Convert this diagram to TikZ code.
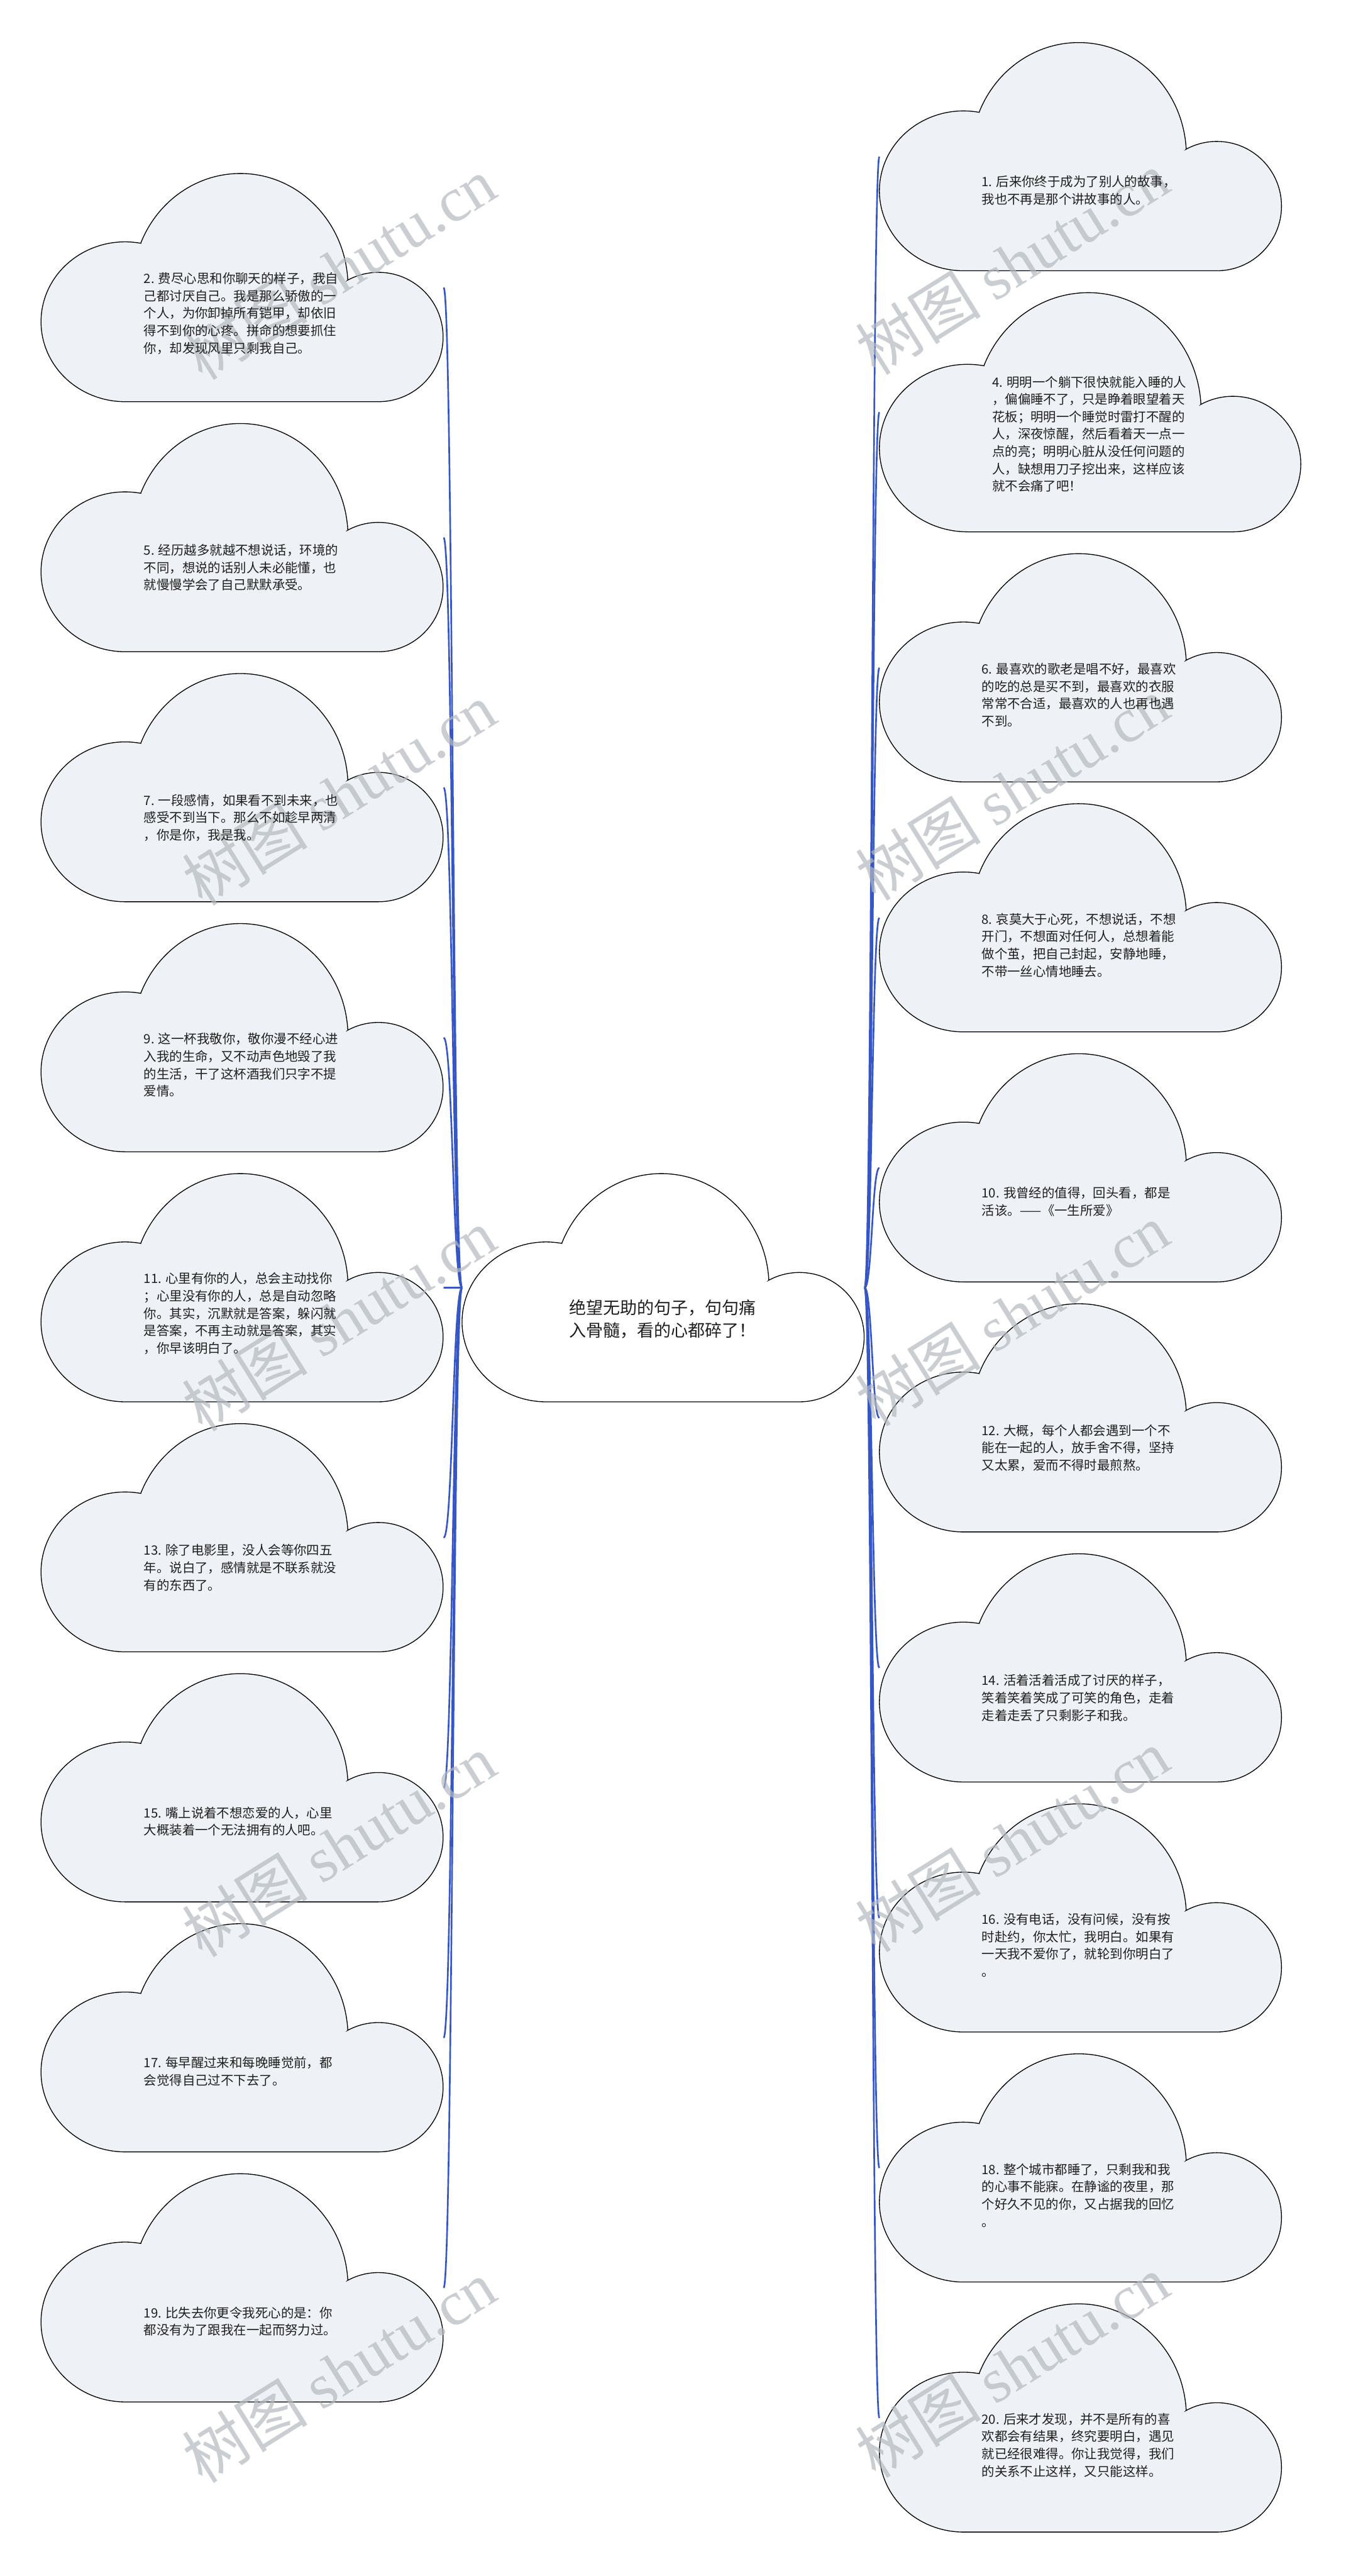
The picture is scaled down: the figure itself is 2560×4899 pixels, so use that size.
\documentclass[tikz,border=0pt]{standalone}
\usepackage{fontspec}
\setmainfont{Noto Sans CJK SC}
\newfontfamily\markfont{Liberation Serif}
\usetikzlibrary{positioning}
\definecolor{cloudfill}{HTML}{EEF1F5}
\definecolor{linkblue}{HTML}{3556C4}
\definecolor{markgray}{HTML}{B4BAC0}
\definecolor{inkdark}{HTML}{1F1F1F}

\tikzset{
  pics/cloudshape/.style={code={
    \path[pic actions] (160,0) -- (642,0)
      arc[start angle=-90, end angle=118.4, radius=123]
      -- (583.7,231.4)
      arc[start angle=3.3, end angle=157.2, x radius=205, y radius=215]
      -- (190,301.3)
      arc[start angle=79.2, end angle=270, x radius=160, y radius=152]
      -- cycle;
  }}
}

\begin{document}
\begin{tikzpicture}[x=0.1mm, y=0.1mm,
  cloudbox/.style={minimum width=76.6mm, minimum height=43.4mm, inner sep=0pt, outer sep=0pt},
  bigbox/.style={cloudbox, minimum width=80.3mm, minimum height=45.5mm},
  cloudpaint/.style={draw=black, fill=cloudfill, line width=0.45pt},
  note/.style={anchor=west, align=left, inner sep=0pt, text=inkdark,
               font=\fontsize{6.95pt}{9.4pt}\selectfont},
  rootnote/.style={note, font=\fontsize{9.2pt}{12.2pt}\selectfont},
  branch/.style={draw=linkblue, line width=0.9pt},
  wmark/.style={text=markgray, opacity=0.7, rotate=32, inner sep=0pt,
                font=\fontsize{34pt}{34pt}\selectfont},
  node distance=4.15mm
]
  \path[use as bounding box, fill=white] (0,0) rectangle (2560,4899);

  % centre cloud
  \node[cloudbox, anchor=south west] (root) at (879,2233) {};
  \pic[cloudpaint, fill=white] at (root.south west) {cloudshape};

  % left column
  \node[cloudbox, anchor=south west] (c2) at (78,4135) {};
  \node[cloudbox, below=of c2] (c5) {};
  \node[cloudbox, below=of c5] (c7) {};
  \node[cloudbox, below=of c7] (c9) {};
  \node[cloudbox, below=of c9] (c11) {};
  \node[cloudbox, below=of c11] (c13) {};
  \node[cloudbox, below=of c13] (c15) {};
  \node[cloudbox, below=of c15] (c17) {};
  \node[cloudbox, below=of c17] (c19) {};

  % right column
  \node[cloudbox, anchor=south west] (c1) at (1673,4384) {};
  \node[bigbox, below=of c1.south west, anchor=north west] (c4) {};
  \node[cloudbox, below=of c4.south west, anchor=north west] (c6) {};
  \node[cloudbox, below=of c6] (c8) {};
  \node[cloudbox, below=of c8] (c10) {};
  \node[cloudbox, below=of c10] (c12) {};
  \node[cloudbox, below=of c12] (c14) {};
  \node[cloudbox, below=of c14] (c16) {};
  \node[cloudbox, below=of c16] (c18) {};
  \node[cloudbox, below=of c18] (c20) {};

  \pic[cloudpaint] at (c2.south west) {cloudshape};
  \pic[cloudpaint] at (c5.south west) {cloudshape};
  \pic[cloudpaint] at (c7.south west) {cloudshape};
  \pic[cloudpaint] at (c9.south west) {cloudshape};
  \pic[cloudpaint] at (c11.south west) {cloudshape};
  \pic[cloudpaint] at (c13.south west) {cloudshape};
  \pic[cloudpaint] at (c15.south west) {cloudshape};
  \pic[cloudpaint] at (c17.south west) {cloudshape};
  \pic[cloudpaint] at (c19.south west) {cloudshape};
  \pic[cloudpaint] at (c1.south west) {cloudshape};
  \pic[cloudpaint, scale=1.048] at (c4.south west) {cloudshape};
  \pic[cloudpaint] at (c6.south west) {cloudshape};
  \pic[cloudpaint] at (c8.south west) {cloudshape};
  \pic[cloudpaint] at (c10.south west) {cloudshape};
  \pic[cloudpaint] at (c12.south west) {cloudshape};
  \pic[cloudpaint] at (c14.south west) {cloudshape};
  \pic[cloudpaint] at (c16.south west) {cloudshape};
  \pic[cloudpaint] at (c18.south west) {cloudshape};
  \pic[cloudpaint] at (c20.south west) {cloudshape};

  % branches
  \draw[branch] (root.west) .. controls +(-17.5,0) and +(17.5,0) .. (c2.east);
  \draw[branch] (root.west) .. controls +(-17.5,0) and +(17.5,0) .. (c5.east);
  \draw[branch] (root.west) .. controls +(-17.5,0) and +(17.5,0) .. (c7.east);
  \draw[branch] (root.west) .. controls +(-17.5,0) and +(17.5,0) .. (c9.east);
  \draw[branch] (root.west) .. controls +(-17.5,0) and +(17.5,0) .. (c11.east);
  \draw[branch] (root.west) .. controls +(-17.5,0) and +(17.5,0) .. (c13.east);
  \draw[branch] (root.west) .. controls +(-17.5,0) and +(17.5,0) .. (c15.east);
  \draw[branch] (root.west) .. controls +(-17.5,0) and +(17.5,0) .. (c17.east);
  \draw[branch] (root.west) .. controls +(-17.5,0) and +(17.5,0) .. (c19.east);
  \draw[branch] (root.east) .. controls +(14,0) and +(-14,0) .. (c1.west);
  \draw[branch] (root.east) .. controls +(14,0) and +(-14,0) .. (c4.west);
  \draw[branch] (root.east) .. controls +(14,0) and +(-14,0) .. (c6.west);
  \draw[branch] (root.east) .. controls +(14,0) and +(-14,0) .. (c8.west);
  \draw[branch] (root.east) .. controls +(14,0) and +(-14,0) .. (c10.west);
  \draw[branch] (root.east) .. controls +(14,0) and +(-14,0) .. (c12.west);
  \draw[branch] (root.east) .. controls +(14,0) and +(-14,0) .. (c14.west);
  \draw[branch] (root.east) .. controls +(14,0) and +(-14,0) .. (c16.west);
  \draw[branch] (root.east) .. controls +(14,0) and +(-14,0) .. (c18.west);
  \draw[branch] (root.east) .. controls +(14,0) and +(-14,0) .. (c20.west);

  % watermarks
  \node[wmark] (w1) at (645,4389) {树图 {\markfont shutu.cn}};
  \node[wmark] (w2) at (645,3389) {树图 {\markfont shutu.cn}};
  \node[wmark] (w3) at (645,2389) {树图 {\markfont shutu.cn}};
  \node[wmark] (w4) at (645,1389) {树图 {\markfont shutu.cn}};
  \node[wmark] (w5) at (645,389) {树图 {\markfont shutu.cn}};
  \node[wmark] (w6) at (1926,4399) {树图 {\markfont shutu.cn}};
  \node[wmark] (w7) at (1926,3399) {树图 {\markfont shutu.cn}};
  \node[wmark] (w8) at (1926,2399) {树图 {\markfont shutu.cn}};
  \node[wmark] (w9) at (1926,1399) {树图 {\markfont shutu.cn}};
  \node[wmark] (w10) at (1926,399) {树图 {\markfont shutu.cn}};

  % texts
  \node[rootnote] (troot) at ([shift={(20.3mm,15.75mm)}]root.south west) {绝望无助的句子，句句痛\\入骨髓，看的心都碎了！};

  \node[note] (t2) at ([shift={(19.5mm,16.8mm)}]c2.south west) {2. 费尽心思和你聊天的样子，我自\\己都讨厌自己。我是那么骄傲的一\\个人，为你卸掉所有铠甲，却依旧\\得不到你的心疼。拼命的想要抓住\\你，却发现风里只剩我自己。};
  \node[note] (t5) at ([shift={(19.5mm,16.0mm)}]c5.south west) {5. 经历越多就越不想说话，环境的\\不同，想说的话别人未必能懂，也\\就慢慢学会了自己默默承受。};
  \node[note] (t7) at ([shift={(19.5mm,16.0mm)}]c7.south west) {7. 一段感情，如果看不到未来，也\\感受不到当下。那么不如趁早两清\\，你是你，我是我。};
  \node[note] (t9) at ([shift={(19.5mm,16.5mm)}]c9.south west) {9. 这一杯我敬你，敬你漫不经心进\\入我的生命，又不动声色地毁了我\\的生活，干了这杯酒我们只字不提\\爱情。};
  \node[note] (t11) at ([shift={(19.5mm,16.8mm)}]c11.south west) {11. 心里有你的人，总会主动找你\\；心里没有你的人，总是自动忽略\\你。其实，沉默就是答案，躲闪就\\是答案，不再主动就是答案，其实\\，你早该明白了。};
  \node[note] (t13) at ([shift={(19.5mm,16.0mm)}]c13.south west) {13. 除了电影里，没人会等你四五\\年。说白了，感情就是不联系就没\\有的东西了。};
  \node[note] (t15) at ([shift={(19.5mm,15.3mm)}]c15.south west) {15. 嘴上说着不想恋爱的人，心里\\大概装着一个无法拥有的人吧。};
  \node[note] (t17) at ([shift={(19.5mm,15.3mm)}]c17.south west) {17. 每早醒过来和每晚睡觉前，都\\会觉得自己过不下去了。};
  \node[note] (t19) at ([shift={(19.5mm,15.3mm)}]c19.south west) {19. 比失去你更令我死心的是：你\\都没有为了跟我在一起而努力过。};

  \node[note] (t1) at ([shift={(19.4mm,15.3mm)}]c1.south west) {1. 后来你终于成为了别人的故事，\\我也不再是那个讲故事的人。};
  \node[note] (t4) at ([shift={(21.4mm,18.6mm)}]c4.south west) {4. 明明一个躺下很快就能入睡的人\\，偏偏睡不了，只是睁着眼望着天\\花板；明明一个睡觉时雷打不醒的\\人，深夜惊醒，然后看着天一点一\\点的亮；明明心脏从没任何问题的\\人，缺想用刀子挖出来，这样应该\\就不会痛了吧！};
  \node[note] (t6) at ([shift={(19.4mm,16.5mm)}]c6.south west) {6. 最喜欢的歌老是唱不好，最喜欢\\的吃的总是买不到，最喜欢的衣服\\常常不合适，最喜欢的人也再也遇\\不到。};
  \node[note] (t8) at ([shift={(19.4mm,16.5mm)}]c8.south west) {8. 哀莫大于心死，不想说话，不想\\开门，不想面对任何人，总想着能\\做个茧，把自己封起，安静地睡，\\不带一丝心情地睡去。};
  \node[note] (t10) at ([shift={(19.4mm,15.3mm)}]c10.south west) {10. 我曾经的值得，回头看，都是\\活该。——《一生所爱》};
  \node[note] (t12) at ([shift={(19.4mm,16.0mm)}]c12.south west) {12. 大概，每个人都会遇到一个不\\能在一起的人，放手舍不得，坚持\\又太累，爱而不得时最煎熬。};
  \node[note] (t14) at ([shift={(19.4mm,16.0mm)}]c14.south west) {14. 活着活着活成了讨厌的样子，\\笑着笑着笑成了可笑的角色，走着\\走着走丢了只剩影子和我。};
  \node[note] (t16) at ([shift={(19.4mm,16.5mm)}]c16.south west) {16. 没有电话，没有问候，没有按\\时赴约，你太忙，我明白。如果有\\一天我不爱你了，就轮到你明白了\\。};
  \node[note] (t18) at ([shift={(19.4mm,16.5mm)}]c18.south west) {18. 整个城市都睡了，只剩我和我\\的心事不能寐。在静谧的夜里，那\\个好久不见的你，又占据我的回忆\\。};
  \node[note] (t20) at ([shift={(19.4mm,16.5mm)}]c20.south west) {20. 后来才发现，并不是所有的喜\\欢都会有结果，终究要明白，遇见\\就已经很难得。你让我觉得，我们\\的关系不止这样，又只能这样。};
\end{tikzpicture}
\end{document}
